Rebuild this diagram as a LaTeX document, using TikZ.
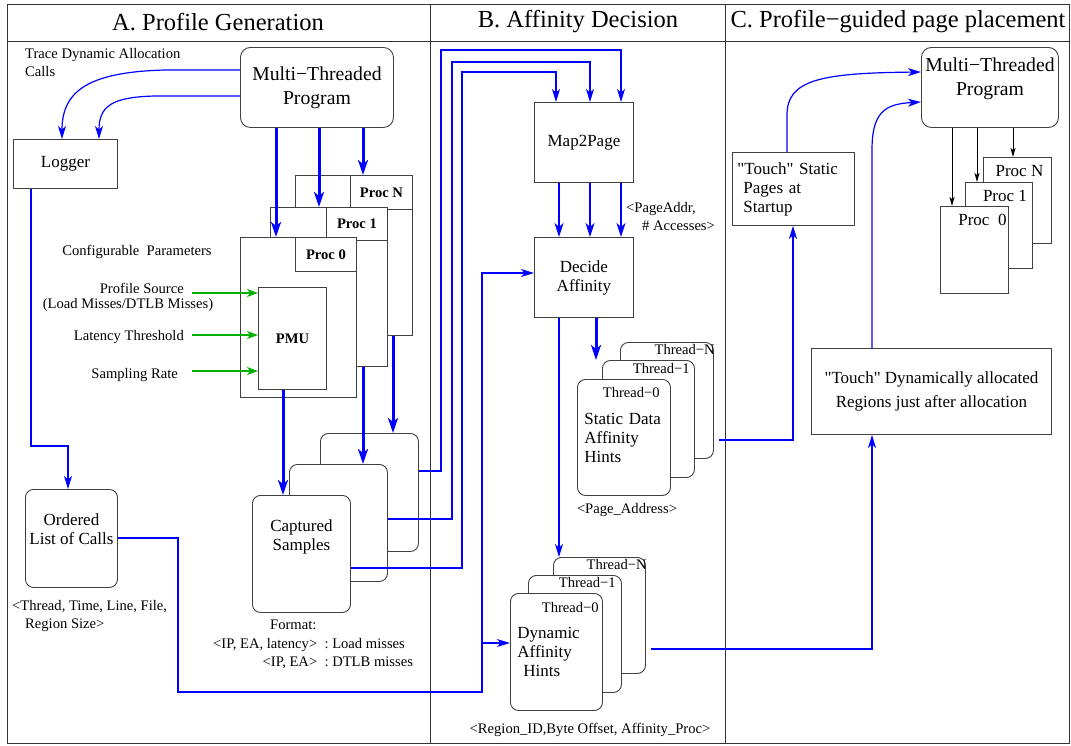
\documentclass[tikz,border=0pt]{standalone}
\usepackage{fontspec}
\defaultfontfeatures[\rmfamily]{}
\setmainfont{Liberation Serif}
\usepackage{tikz}
\usetikzlibrary{arrows.meta,positioning,calc}

\definecolor{flowblue}{RGB}{0,0,255}
\definecolor{paramgreen}{RGB}{0,176,0}
\newcommand{\ftitle}{\fontsize{24.5}{28}\selectfont}
\newcommand{\fbig}{\fontsize{19.7}{24}\selectfont}
\newcommand{\fmed}{\fontsize{17}{19}\selectfont}
\newcommand{\fsml}{\fontsize{14.6}{18}\selectfont}

\begin{document}
\begin{tikzpicture}[x=1pt, y=-1pt,
    frame/.style={draw=black!80, line width=0.9pt},
    box/.style={draw=black!75, line width=0.9pt, fill=white, inner sep=0pt, anchor=north west, align=center},
    card/.style={box, rounded corners=8pt},
    tag/.style={draw=black!75, line width=0.9pt, fill=white, inner sep=0pt, anchor=north east, font=\fsml\bfseries},
    lbl/.style={font=\fsml, inner sep=0pt, align=left},
    body/.style={font=\fmed, inner sep=0pt, align=left},
    flow/.style={draw=flowblue, line width=1.2pt, -{Stealth[length=13pt, width=8pt, inset=3.5pt]}},
    mid/.style={draw=flowblue, line width=2pt, -{Stealth[length=14pt, width=9pt, inset=4pt]}},
    heavy/.style={draw=flowblue, line width=3pt, -{Stealth[length=15pt, width=10pt, inset=4pt]}},
    param/.style={draw=paramgreen, line width=1.4pt, -{Stealth[length=11pt, width=8pt, inset=3pt]}},
    plain/.style={draw=black, line width=1pt, -{Stealth[length=9pt, width=5pt, inset=2pt]}}
  ]
  \useasboundingbox (0,0) rectangle (1071,745);
  \draw[frame] (7,4) rectangle (1069,743);
  \draw[frame] (7,41) -- (1069,41);
  \draw[frame] (430,4) -- (430,743);
  \draw[frame] (725,4) -- (725,743);
  \node[font=\ftitle] (ttlA) at (218,22) {A. Profile Generation};
  \node[font=\ftitle] (ttlB) at (578,22) {B. Affinity Decision};
  \node[font=\ftitle] (ttlC) at (898,22) {C. Profile−guided page placement};

  % A. profile generation
  \node[lbl, anchor=west] (trace) at (25,63) {Trace Dynamic Allocation\\Calls};
  \node[card, rounded corners=10pt, minimum width=153pt, minimum height=80pt, font=\fbig] (progA) at (240,47) {Multi−Threaded\\Program};
  \node[box, minimum width=104pt, minimum height=49pt, font=\fmed] (logger) at (13,139) {Logger};
  \draw[flow] (progA.west |- 0,70) -- (165,70) .. controls (90,72) and (62,90) .. (logger.north -| 62,0);
  \draw[flow] (progA.west |- 0,96) -- (155,96) .. controls (112,97) and (99,106) .. (logger.north -| 99,0);

  \node[box, minimum width=117pt, minimum height=160pt] (pN) at (295,175) {};
  \node[tag, minimum width=62pt, minimum height=34pt] (pNt) at (pN.north east) {Proc N};
  \node[box, minimum width=117pt, minimum height=159pt] (p1) at (270,207) {};
  \node[tag, minimum width=61pt, minimum height=33pt] (p1t) at (p1.north east) {Proc 1};
  \node[box, minimum width=116pt, minimum height=160pt] (p0) at (240,237) {};
  \node[tag, minimum width=61pt, minimum height=34pt] (p0t) at (p0.north east) {Proc 0};
  \node[box, minimum width=68pt, minimum height=102pt, font=\fsml\bfseries] (pmu) at (258,287) {PMU};
  \draw[heavy] (progA.south -| 276,0) -- (p0.north -| 276,0);
  \draw[heavy] (progA.south -| 319,0) -- (p1.north -| 319,0);
  \draw[heavy] (progA.south -| 363,0) -- (pN.north -| 363,0);

  \node[lbl] (cfg) at (137,252) {Configurable\ \ Parameters};
  \node[lbl, anchor=east] (src) at (184,288) {Profile Source};
  \node[lbl] (srcb) at (128,305) {(Load Misses/DTLB Misses)};
  \node[lbl, anchor=east] (lat) at (184,337) {Latency Threshold};
  \node[lbl, anchor=east] (smp) at (178,375) {Sampling Rate};
  \coordinate (srcin) at (192,293);
  \coordinate (latin) at (192,335);
  \coordinate (smpin) at (192,371);
  \foreach \p in {srcin,latin,smpin}
    \draw[param] (\p) -- (pmu.west |- \p);

  \node[card, minimum width=98pt, minimum height=118pt] (cN) at (320,433) {};
  \node[card, minimum width=98pt, minimum height=117pt] (c1) at (289,464) {};
  \node[card, minimum width=98pt, minimum height=117pt, font=\fmed, text depth=38pt] (c0) at (252,495) {Captured\\Samples};
  \draw[heavy] (pmu.south -| 283,0) -- (c0.north -| 283,0);
  \draw[heavy] (p1.south -| 363,0) -- (c1.north -| 363,0);
  \draw[heavy] (pN.south -| 393,0) -- (cN.north -| 393,0);
  \node[lbl, anchor=west] (fmthead) at (270,625) {Format:};
  \node[lbl, anchor=west] (fmt) at (213,654) {\begin{tabular}{@{}r@{\ \ :\ }l@{}}<IP, EA, latency> & Load misses\\<IP, EA> & DTLB misses\end{tabular}};

  \node[card, minimum width=92pt, minimum height=98pt, font=\fmed, text depth=18pt] (ol) at (25,489) {Ordered\\List of Calls};
  \node[lbl, anchor=west] (olfmt) at (12,616) {<Thread, Time, Line, File,\\\hspace*{13pt}Region Size>};
  \draw[flow] (logger.south -| 31,0) |- (68,446) -- (ol.north -| 68,0);

  % B. affinity decision
  \node[box, minimum width=99pt, minimum height=80pt, font=\fmed] (map) at (534,102) {Map2Page};
  \node[box, minimum width=99pt, minimum height=80pt, font=\fmed] (decide) at (534,237) {Decide\\Affinity};
  \draw[flow] (cN.east |- 0,471) -| (441,50) -| (map.north -| 621,0);
  \draw[flow] (c1.east |- 0,519) -| (452,62) -| (map.north -| 590,0);
  \draw[flow] (c0.east |- 0,568) -| (462,72) -| (map.north -| 556,0);
  \foreach \x in {559,590,621}
    \draw[mid] (map.south -| \x,0) -- (decide.north -| \x,0);
  \node[lbl, anchor=west] (pgaddr) at (626,217) {<PageAddr,\\\hspace*{16pt}\# Accesses>};

  \node[card, minimum width=93pt, minimum height=116pt] (sN) at (620,342) {};
  \node[lbl, anchor=east] (sNt) at ($(sN.north east)+(1,7)$) {Thread−N};
  \node[card, minimum width=92pt, minimum height=117pt] (s1) at (602,360) {};
  \node[lbl, anchor=east] (s1t) at ($(s1.north east)+(-5,8)$) {Thread−1};
  \node[card, minimum width=93pt, minimum height=116pt, font=\fmed, align=left, text width=79pt, inner xsep=7pt] (s0) at (577,379) {Static Data\\Affinity\\Hints};
  \node[lbl, anchor=east] (s0t) at ($(s0.north east)+(-11,13)$) {Thread−0};
  \node[lbl] (pgfmt) at (627,510) {<Page\_Address>};

  \node[card, minimum width=92pt, minimum height=116pt] (dN) at (553,557) {};
  \node[lbl, anchor=east] (dNt) at ($(dN.north east)+(1,7)$) {Thread−N};
  \node[card, minimum width=93pt, minimum height=117pt] (d1) at (528,575) {};
  \node[lbl, anchor=east] (d1t) at ($(d1.north east)+(-6,7)$) {Thread−1};
  \node[card, minimum width=92pt, minimum height=117pt, font=\fmed, align=left, text width=78pt, inner xsep=7pt] (d0) at (510,593) {Dynamic\\Affinity\\\hspace*{6pt}Hints};
  \node[lbl, anchor=east] (d0t) at ($(d0.north east)+(-4,14)$) {Thread−0};
  \node[lbl] (rgfmt) at (590,730) {<Region\_ID,Byte Offset, Affinity\_Proc>};

  \draw[heavy] (decide.south -| 596,0) -- (s1.north -| 596,0);
  \draw[flow] (decide.south -| 559,0) -- (dN.north -| 559,0);
  \draw[flow] (ol.east |- 0,538) -| (178,692) -| (482,273) -- (decide.west |- 0,273);
  \coordinate (split) at (482,643);
  \draw[flow] (split) -- (d0.west |- split);

  % C. page placement
  \node[card, rounded corners=10pt, minimum width=137pt, minimum height=80pt, font=\fbig, text depth=22pt] (progC) at (921,47) {Multi−Threaded\\Program};
  \node[box, minimum height=73pt, text width=112pt, inner xsep=5pt, font=\fmed, align=left] (ts) at (732,152) {"Touch" Static\\\hspace*{6pt}Pages at\\\hspace*{6pt}Startup};
  \node[box, minimum width=240pt, minimum height=86pt, font=\fmed] (td) at (811,348) {"Touch" Dynamically allocated\\[5pt]Regions just after allocation};
  \node[box, minimum width=68pt, minimum height=86pt] (cpN) at (983,157) {};
  \node[font=\fmed, inner sep=0pt] (cpNt) at ($(cpN.north)+(2,14)$) {Proc N};
  \node[box, minimum width=67pt, minimum height=86pt] (cp1) at (965,182) {};
  \node[font=\fmed, inner sep=0pt] (cp1t) at ($(cp1.north)+(6,14)$) {Proc 1};
  \node[box, minimum width=68pt, minimum height=87pt] (cp0) at (940,206) {};
  \node[font=\fmed, inner sep=0pt] (cp0t) at ($(cp0.north)+(8,14)$) {Proc\ \ 0};
  \draw[plain] (progC.south -| 952,0) -- (cp0.north -| 952,0);
  \draw[plain] (progC.south -| 977,0) -- (cp1.north -| 977,0);
  \draw[plain] (progC.south -| 1013,0) -- (cpN.north -| 1013,0);

  \coordinate (sout) at (719,440);
  \coordinate (dout) at (651,649);
  \draw[flow] (sout) -| (ts.south -| 793,0);
  \draw[flow] (dout) -| (td.south -| 872,0);
  \draw[flow] (ts.north -| 787,0) -- (787,115) .. controls (787,80) and (820,73) .. (progC.west |- 0,72);
  \draw[flow] (td.north -| 872,0) -- (872,150) .. controls (872,112) and (885,104) .. (progC.west |- 0,102);
\end{tikzpicture}
\end{document}
